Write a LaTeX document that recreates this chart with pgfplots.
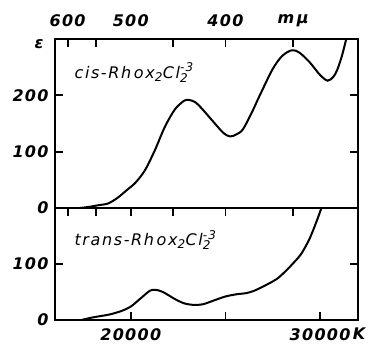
\documentclass[border=0pt]{standalone}
\usepackage{fontspec}
\setmainfont{DejaVu Sans}
\newfontfamily\lab[LetterSpace=10]{DejaVu Sans}
\newfontfamily\labb[LetterSpace=8]{DejaVu Sans Bold}
\usepackage{pgfplots}
\pgfplotsset{compat=1.18}
\pgfplotstableread{
x y
17300 0
17800 2
18300 5
18800 8
19300 18
19800 32
20250 45
20750 67
21280 103
21800 144
22330 175
22800 190
23050 192
23400 188
23740 177
24440 150
24900 133
25250 127
25600 131
25930 140
26400 170
26800 199
27500 247
28000 270
28500 280
28900 276
29440 259
30000 236
30400 226
30700 233
30900 245
31150 270
31400 303
}\cisdata
\pgfplotstableread{
x y
17400 0
17900 4
18400 7
18900 10
19500 16
20000 24
20500 38
21000 52
21300 54
21700 50
22300 38
22800 30
23300 27
23800 28
24400 35
25000 42
25600 46
26100 48
26500 52
27000 60
27700 73
28200 88
28540 100
29000 118
29440 145
29800 175
30100 203
}\transdata
\newcommand{\lf}{\labb\itshape\fontsize{16}{18}\selectfont}
\newcommand{\tf}{\lab\itshape\fontsize{16}{18}\selectfont}
\newcommand{\sm}{\lab\itshape\fontsize{12}{12}\selectfont}
\newcommand{\formula}{Rh\,ox$_{\hbox{\sm 2}}$Cl$^{\hbox{\sm -3}}_{\hbox{\sm 2}}$}
\begin{document}
\begin{tikzpicture}
\pgfplotsset{
  common/.style={
    scale only axis, width=303pt, xmin=16000, xmax=32000,
    axis line style={line width=1.5pt},
    ticklabel style={font=\lf},
    tick style={draw=none},
    /pgf/number format/assume math mode=true,
    scaled ticks=false,
    /pgf/number format/1000 sep={},
    clip mode=individual,
    yticklabel style={xshift=-3pt},
  }
}
% lower panel
\begin{axis}[common, at={(0,0)}, anchor=south west, height=112pt,
  ymin=0, ymax=200, ytick={0,100}, ytick pos=both, yticklabel pos=left,
  xtick={20000,25000,30000}, xticklabels={20000,,30000}, xtick pos=lower,
  xticklabel style={yshift=-5pt}]
\addplot[black, line width=2pt, smooth] table[x=x,y=y] {\transdata};
\node[anchor=west, font=\tf] at (axis cs:16850,143) {trans-\formula};
\node[font=\lf] at (axis cs:32000,0) [xshift=1pt, yshift=-14pt] {K};
\end{axis}
% upper panel
\begin{axis}[common, at={(0,112pt)}, anchor=south west, height=169pt,
  ymin=0, ymax=300, ytick={0,100,200}, ytick pos=both, yticklabel pos=left,
  xtick={16666.7,20000,25000,28571.4},
  xticklabels={600,500,400,{m\,μ}}, xtick pos=upper, xticklabel pos=upper,
  xticklabel style={yshift=9pt}]
\addplot[black, line width=2pt, smooth] table[x=x,y=y] {\cisdata};
\node[anchor=west, font=\tf] at (axis cs:16850,240) {cis-\formula};
\node[font=\lf] at (axis cs:16000,290) [xshift=-16pt] {ε};
\end{axis}
% frame tick marks (axis furniture), drawn on top of both axes
\begin{scope}[line width=1.8pt, black]
  % bottom edge: 20000, 25000, 30000 cm-1
  \foreach \x in {75.75pt,170.44pt,265.13pt} \draw (\x,0pt) -- (\x,8pt);
  % middle line: 600, 550, 500, 450, 400, 350 nm, pointing down
  \foreach \x in {12.63pt,41.32pt,75.75pt,117.83pt,170.44pt,238.07pt} \draw (\x,112pt) -- (\x,104pt);
  % top edge: 600, 550, 450, 400, 350 nm, pointing down
  \foreach \x in {12.63pt,41.32pt,117.83pt,170.44pt,238.07pt} \draw (\x,281pt) -- (\x,273pt);
  % left and right edges: 100 (lower), 100 and 200 (upper)
  \foreach \y in {56pt,168.33pt,224.67pt} {\draw (0pt,\y) -- (8pt,\y); \draw (303pt,\y) -- (295pt,\y);}
\end{scope}
\useasboundingbox (-55pt,-25pt) rectangle (316pt,320pt);
\end{tikzpicture}
\end{document}
